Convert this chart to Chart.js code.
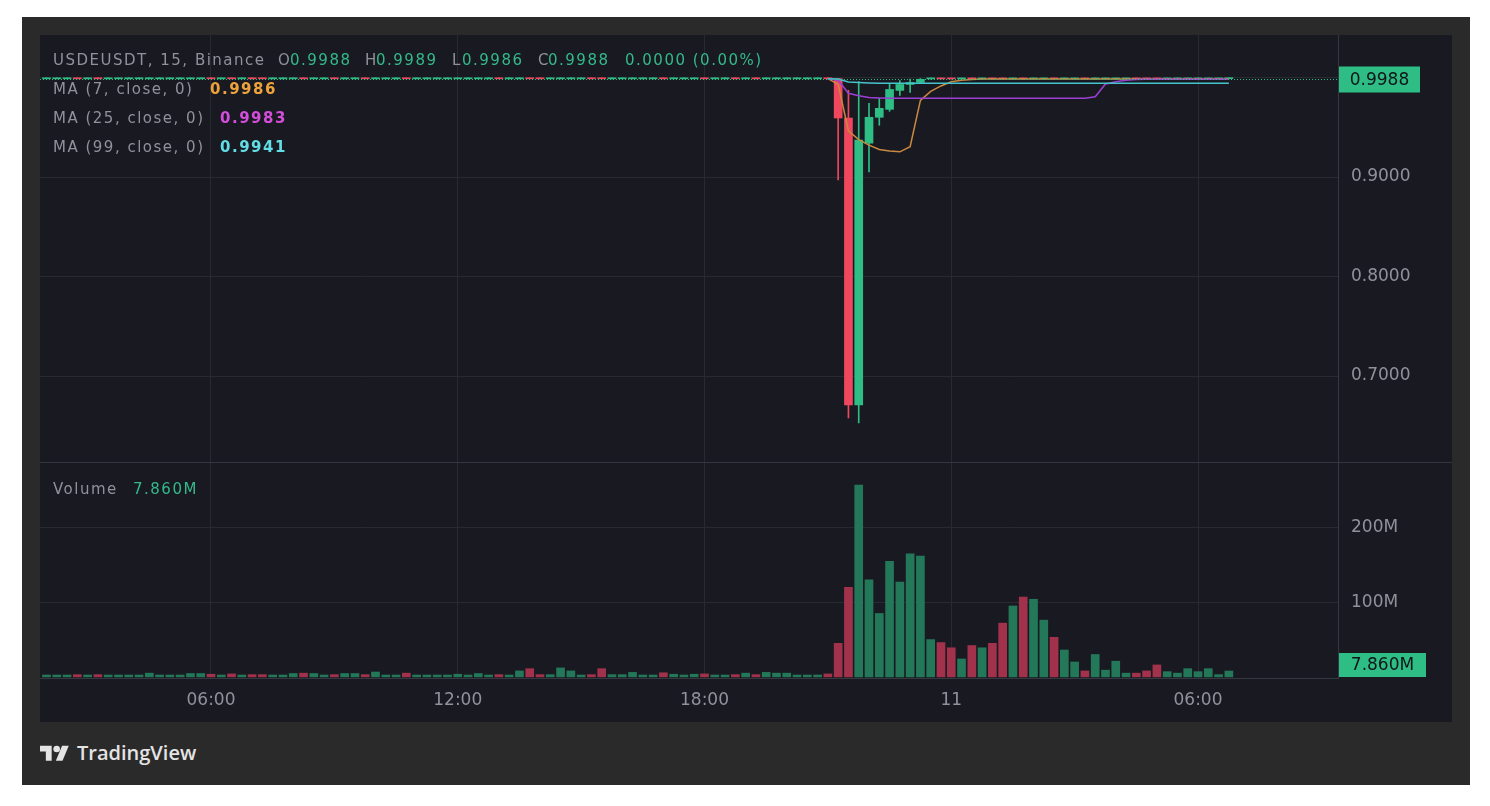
<!DOCTYPE html>
<html>
<head>
<meta charset="utf-8">
<script src="https://cdn.jsdelivr.net/npm/chart.js@4.4.1/dist/chart.umd.min.js"></script>
<style>
  body { margin: 0; background: #fff; width: 1490px; height: 806px; overflow: hidden; position: relative; font-family: "DejaVu Sans", sans-serif; }
  #frame { position: absolute; left: 22px; top: 17px; width: 1448px; height: 768px; background: #2a2a2b; }
  #pane { position: absolute; left: 40px; top: 35px; width: 1412px; height: 687px; background: #191a21; }
  #pane canvas { position: absolute; left: 0; }
  .sep { position: absolute; left: 40px; width: 1412px; height: 1px; background: #34363f; }
  .t { position: absolute; font-size: 15px; letter-spacing: 1.5px; line-height: 20px; color: #8f929b; white-space: nowrap; }
  .g { color: #33b98a; }
  .b { font-weight: bold; }
  #logo { position: absolute; left: 40px; top: 744px; }
  #brand { position: absolute; left: 77px; top: 739px; font-family: "Open Sans", sans-serif; font-weight: 600; font-size: 20px; color: #e4e4e4; line-height: 28px; }
</style>
</head>
<body>
<div id="frame"></div>
<div id="pane">
  <canvas id="priceChart" width="1412" height="427" style="top:0"></canvas>
  <canvas id="volumeChart" width="1412" height="260" style="top:427px"></canvas>
</div>
<div class="sep" style="top:462px"></div>

<div class="t" style="left:53px;top:50px">USDEUSDT, 15, Binance</div>
<div class="t" style="left:278px;top:50px">O</div><div class="t g" id="vO" style="left:290px;top:50px"></div>
<div class="t" style="left:365px;top:50px">H</div><div class="t g" id="vH" style="left:376px;top:50px"></div>
<div class="t" style="left:452px;top:50px">L</div><div class="t g" id="vL" style="left:462px;top:50px"></div>
<div class="t" style="left:538px;top:50px">C</div><div class="t g" id="vC" style="left:548px;top:50px"></div>
<div class="t g" id="vChg" style="left:625px;top:50px"></div>

<div class="t" style="left:53px;top:79px">MA (7, close, 0)</div><div class="t b" id="vMa7" style="left:210px;top:79px;color:#eea23c"></div>
<div class="t" style="left:53px;top:108px">MA (25, close, 0)</div><div class="t b" id="vMa25" style="left:220px;top:108px;color:#d44ddb"></div>
<div class="t" style="left:53px;top:137px">MA (99, close, 0)</div><div class="t b" id="vMa99" style="left:220px;top:137px;color:#62dde6"></div>

<div class="t" style="left:53px;top:479px">Volume</div><div class="t g" id="vVol" style="left:133px;top:479px"></div>

<svg id="logo" width="30" height="20" viewBox="0 0 36 24">
  <path d="M14 20H7V9H0V2h14v18z" fill="#e4e4e4"/>
  <circle cx="20" cy="6" r="4" fill="#e4e4e4"/>
  <path d="M27 20h-8l7.5-18h8z" fill="#e4e4e4"/>
</svg>
<div id="brand">TradingView</div>

<script>
// 15 minute bars, first one at 02:00 on the 10th, hours counted from 00:00 of the 10th
const START_HOUR = 2;
const BAR_HOURS = 0.25;
const X_MIN = 1.842;
const X_MAX = 33.404;

const timeTicks = [6, 12, 18, 24, 30];
const timeLabels = ['06:00', '12:00', '18:00', '11', '06:00'];
const priceTicks = [0.7, 0.8, 0.9, 1.0];
const volumeTicks = [100, 200];

const opens = [
  .9987,.9987,.9987,.9988,.9987,.9988,.9987,.9987,.9987,.9987,
  .9987,.9987,.9987,.9987,.9987,.9987,.9988,.9987,.9988,.9987,
  .9988,.9988,.9987,.9987,.9987,.9988,.9987,.9987,.9988,.9987,
  .9987,.9988,.9987,.9987,.9987,.9988,.9987,.9987,.9987,.9987,
  .9987,.9987,.9987,.9987,.9988,.9987,.9987,.9988,.9988,.9987,
  .9987,.9987,.9987,.9988,.9988,.9987,.9987,.9987,.9987,.9987,
  .9988,.9987,.9987,.9987,.9988,.9987,.9987,.9988,.9987,.9988,
  .9987,.9987,.9987,.9987,.9987,.9987,.9988,.9988,.9593,.6709,
  .9340,.9600,.9680,.9870,.9930,.9950,.9986,.9988,.9988,.9986,
  .9988,.9986,.9988,.9988,.9986,.9988,.9986,.9986,.9988,.9986,
  .9986,.9988,.9986,.9986,.9986,.9986,.9988,.9988,.9988,.9986,
  .9986,.9986,.9986,.9986,.9986,.9988
];
const highs = [
  .9989,.9989,.9989,.9989,.9989,.9989,.9989,.9989,.9989,.9989,
  .9989,.9989,.9989,.9989,.9989,.9989,.9989,.9989,.9989,.9989,
  .9989,.9989,.9989,.9989,.9989,.9989,.9989,.9989,.9989,.9989,
  .9989,.9989,.9989,.9989,.9989,.9989,.9989,.9989,.9989,.9989,
  .9989,.9989,.9989,.9989,.9989,.9989,.9989,.9989,.9989,.9989,
  .9989,.9989,.9989,.9989,.9989,.9989,.9989,.9989,.9989,.9989,
  .9989,.9989,.9989,.9989,.9989,.9989,.9989,.9989,.9989,.9989,
  .9989,.9989,.9989,.9989,.9989,.9989,.9989,.9989,.9870,.9960,
  .9740,.9790,.9940,.9970,.9985,.9989,.9989,.9989,.9989,.9989,
  .9989,.9989,.9989,.9989,.9989,.9989,.9989,.9989,.9989,.9989,
  .9989,.9989,.9989,.9989,.9989,.9989,.9989,.9989,.9989,.9989,
  .9989,.9989,.9989,.9989,.9989,.9989
];
const lows = [
  .9986,.9986,.9986,.9986,.9986,.9986,.9986,.9986,.9986,.9986,
  .9986,.9986,.9986,.9986,.9986,.9986,.9986,.9986,.9986,.9986,
  .9986,.9986,.9986,.9986,.9986,.9986,.9986,.9986,.9986,.9986,
  .9986,.9986,.9986,.9986,.9986,.9986,.9986,.9986,.9986,.9986,
  .9986,.9986,.9986,.9986,.9986,.9986,.9986,.9986,.9986,.9986,
  .9986,.9986,.9986,.9986,.9986,.9986,.9986,.9986,.9986,.9986,
  .9986,.9986,.9986,.9986,.9986,.9986,.9986,.9986,.9986,.9986,
  .9986,.9986,.9986,.9986,.9986,.9986,.9986,.8970,.6578,.6528,
  .9050,.9520,.9660,.9820,.9850,.9940,.9984,.9984,.9984,.9984,
  .9984,.9984,.9984,.9984,.9984,.9984,.9984,.9984,.9984,.9984,
  .9984,.9984,.9984,.9984,.9984,.9984,.9984,.9984,.9984,.9984,
  .9984,.9984,.9984,.9984,.9984,.9986
];
const closes = [
  .9988,.9988,.9988,.9987,.9988,.9987,.9988,.9988,.9988,.9988,
  .9988,.9988,.9988,.9988,.9988,.9988,.9987,.9988,.9987,.9988,
  .9987,.9987,.9988,.9988,.9988,.9987,.9988,.9988,.9987,.9988,
  .9988,.9987,.9988,.9988,.9988,.9987,.9988,.9988,.9988,.9988,
  .9988,.9988,.9988,.9988,.9987,.9988,.9988,.9987,.9987,.9988,
  .9988,.9988,.9988,.9987,.9987,.9988,.9988,.9988,.9988,.9988,
  .9987,.9988,.9988,.9988,.9987,.9988,.9988,.9987,.9988,.9987,
  .9988,.9988,.9988,.9988,.9988,.9988,.9987,.9593,.6709,.9370,
  .9600,.9690,.9880,.9930,.9950,.9982,.9988,.9986,.9986,.9988,
  .9986,.9988,.9986,.9986,.9988,.9986,.9988,.9988,.9986,.9988,
  .9988,.9986,.9988,.9988,.9988,.9988,.9986,.9986,.9986,.9988,
  .9988,.9988,.9988,.9988,.9988,.9988
];
// volume in millions
const volumes = [
  2.5,2.5,2.5,3,2.5,3,2.5,2.5,2.5,2.5,
  5,2.5,2.5,2.5,4.5,4.5,3.5,2.5,4,2.5,
  3,3,2.5,2.5,4.5,5,4.5,2.5,3,4.5,
  4.5,3,6.5,2.5,2.5,5,2.5,2.5,2.5,2.5,
  3.5,2.5,4.5,2.5,3,2.5,8,11,3,3,
  12,8,2.5,3,11,3,3,6,2.5,2.5,
  5.5,3.5,2.5,3.5,4,2.5,2.5,3,5,3,
  6,5,5,2.5,2.5,2.5,4,45,120,257,
  130,85,155,127,165,162,50,46,39,24,
  42,39,45,72,95,107,104,76,53,36,
  20,8,30,9,21,5,5,8,16,7,
  5,11,7,11,3,7.86
];
// moving averages, only visible from the sell-off onwards
const ma7 = [
  null,null,null,null,null,null,null,null,null,null,
  null,null,null,null,null,null,null,null,null,null,
  null,null,null,null,null,null,null,null,null,null,
  null,null,null,null,null,null,null,null,null,null,
  null,null,null,null,null,null,null,null,null,null,
  null,null,null,null,null,null,null,null,null,null,
  null,null,null,null,null,null,null,null,null,null,
  null,null,null,null,null,null,.9988,.9931,.9463,.9375,
  .9320,.9277,.9261,.9253,.9304,.9770,.9860,.9915,.9957,.9973,
  .9981,.9985,.9986,.9986,.9986,.9986,.9986,.9986,.9986,.9986,
  .9986,.9986,.9986,.9986,.9986,.9986,.9986,.9986,.9986,.9986,
  .9986,.9986,.9986,.9986,.9986,.9986
];
const ma25 = [
  null,null,null,null,null,null,null,null,null,null,
  null,null,null,null,null,null,null,null,null,null,
  null,null,null,null,null,null,null,null,null,null,
  null,null,null,null,null,null,null,null,null,null,
  null,null,null,null,null,null,null,null,null,null,
  null,null,null,null,null,null,null,null,null,null,
  null,null,null,null,null,null,null,null,null,null,
  null,null,null,null,null,null,.9988,.9972,.9841,.9816,
  .9800,.9795,.9792,.9792,.9792,.9792,.9792,.9792,.9792,.9792,
  .9792,.9792,.9792,.9792,.9792,.9792,.9792,.9792,.9792,.9792,
  .9792,.9792,.9806,.9935,.9958,.9972,.9980,.9983,.9983,.9983,
  .9983,.9983,.9983,.9983,.9983,.9983
];
const ma99 = [
  null,null,null,null,null,null,null,null,null,null,
  null,null,null,null,null,null,null,null,null,null,
  null,null,null,null,null,null,null,null,null,null,
  null,null,null,null,null,null,null,null,null,null,
  null,null,null,null,null,null,null,null,null,null,
  null,null,null,null,null,null,null,null,null,null,
  null,null,null,null,null,null,null,null,null,null,
  null,null,null,null,null,null,.9988,.9984,.9955,.9949,
  .9945,.9942,.9941,.9941,.9941,.9941,.9941,.9941,.9941,.9941,
  .9941,.9941,.9941,.9941,.9941,.9941,.9941,.9941,.9941,.9941,
  .9941,.9941,.9941,.9941,.9941,.9941,.9941,.9941,.9941,.9941,
  .9941,.9941,.9941,.9941,.9941,.9941
];

const UP = '#2dbd85';
const DOWN = '#f0475f';
const VOL_UP = '#23785a';
const VOL_DOWN = '#a2324b';
const GRID = '#282a32';
const AXIS = '#363841';
const TEXT = '#8f929b';
const FONT = { family: 'DejaVu Sans', size: 17 };

const last = closes.length - 1;
const barX = i => START_HOUR + i * BAR_HOURS;
const isUp = i => closes[i] >= opens[i];

// header values
document.getElementById('vO').textContent = opens[last].toFixed(4);
document.getElementById('vH').textContent = highs[last].toFixed(4);
document.getElementById('vL').textContent = lows[last].toFixed(4);
document.getElementById('vC').textContent = closes[last].toFixed(4);
const chg = closes[last] - opens[last];
document.getElementById('vChg').textContent = chg.toFixed(4) + ' (' + (chg / opens[last] * 100).toFixed(2) + '%)';
document.getElementById('vMa7').textContent = ma7[last].toFixed(4);
document.getElementById('vMa25').textContent = ma25[last].toFixed(4);
document.getElementById('vMa99').textContent = ma99[last].toFixed(4);
document.getElementById('vVol').textContent = volumes[last].toFixed(3) + 'M';

function axisLabel(ctx, text, x, y, w, h) {
    ctx.fillStyle = UP;
    ctx.fillRect(x, y, w, h);
    ctx.fillStyle = '#101519';
    ctx.font = '17px "DejaVu Sans"';
    ctx.textAlign = 'center';
    ctx.textBaseline = 'middle';
    ctx.fillText(text, x + w / 2, y + h / 2 + 1);
}

const lastPricePlugin = {
    id: 'lastPrice',
    afterDatasetsDraw(chart) {
        const { ctx, chartArea, scales } = chart;
        const py = Math.round(scales.y.getPixelForValue(closes[last])) + 0.5;
        ctx.save();
        ctx.strokeStyle = UP;
        ctx.lineWidth = 1;
        ctx.setLineDash([1, 2]);
        ctx.beginPath();
        ctx.moveTo(chartArea.left, py);
        ctx.lineTo(chartArea.right, py);
        ctx.stroke();
        ctx.setLineDash([]);
        const h = 26;
        const top = Math.max(chartArea.top, Math.min(py - h / 2, chartArea.bottom - h));
        axisLabel(ctx, closes[last].toFixed(4), chartArea.right + 1, top, 81, h);
        ctx.restore();
    }
};

const lastVolumePlugin = {
    id: 'lastVolume',
    afterDatasetsDraw(chart) {
        const { ctx, chartArea, scales } = chart;
        const py = scales.y.getPixelForValue(volumes[last]);
        const h = 24;
        const top = Math.max(chartArea.top, Math.min(py - h / 2, chartArea.bottom - h - 1));
        ctx.save();
        axisLabel(ctx, volumes[last].toFixed(3) + 'M', chartArea.right + 1, top, 87, h);
        ctx.restore();
    }
};

const xScale = (showLabels) => ({
    type: 'linear',
    min: X_MIN,
    max: X_MAX,
    offset: false,
    afterBuildTicks: s => { s.ticks = timeTicks.map(v => ({ value: v })); },
    ticks: {
        display: showLabels,
        color: TEXT,
        font: FONT,
        padding: 12,
        maxRotation: 0,
        callback: v => timeLabels[timeTicks.indexOf(v)]
    },
    grid: { color: GRID, drawTicks: false, offset: false },
    border: { display: showLabels, color: AXIS },
    afterFit: s => { s.height = showLabels ? 44 : 0; s.paddingLeft = 0; s.paddingRight = 0; }
});

const maLine = (values, color) => ({
    type: 'line',
    data: values.map((v, i) => ({ x: barX(i), y: v })),
    borderColor: color,
    borderWidth: 1.5,
    pointRadius: 0,
    tension: 0,
    spanGaps: false,
    order: 1
});

const priceChart = new Chart(document.getElementById('priceChart'), {
    type: 'bar',
    data: {
        datasets: [
            maLine(ma99, '#44c4cc'),
            maLine(ma25, '#9c3fd4'),
            maLine(ma7, '#c98a40'),
            {
                data: opens.map((o, i) => ({ x: barX(i), y: [o, closes[i]] })),
                backgroundColor: c => isUp(c.dataIndex) ? UP : DOWN,
                barThickness: 8,
                minBarLength: 1,
                grouped: false,
                order: 2
            },
            {
                data: lows.map((l, i) => ({ x: barX(i), y: [l, highs[i]] })),
                backgroundColor: c => isUp(c.dataIndex) ? UP : DOWN,
                barThickness: 1,
                minBarLength: 1,
                grouped: false,
                order: 3
            }
        ]
    },
    options: {
        responsive: false,
        animation: false,
        layout: { padding: 0, autoPadding: false },
        plugins: { legend: { display: false }, tooltip: { enabled: false } },
        scales: {
            x: xScale(false),
            y: {
                position: 'right',
                min: 0.6136,
                max: 1.0427,
                afterBuildTicks: s => { s.ticks = priceTicks.map(v => ({ value: v })); },
                ticks: {
                    color: TEXT,
                    font: FONT,
                    padding: 13,
                    callback: v => v === 1 ? '' : v.toFixed(4)
                },
                grid: { color: GRID, drawTicks: false },
                border: { color: AXIS },
                afterFit: s => { s.width = 114; s.paddingTop = 0; s.paddingBottom = 0; }
            }
        }
    },
    plugins: [lastPricePlugin]
});

const volumeChart = new Chart(document.getElementById('volumeChart'), {
    type: 'bar',
    data: {
        datasets: [{
            data: volumes.map((v, i) => ({ x: barX(i), y: v })),
            backgroundColor: c => isUp(c.dataIndex) ? VOL_UP : VOL_DOWN,
            barThickness: 8,
            grouped: false
        }]
    },
    options: {
        responsive: false,
        animation: false,
        layout: { padding: 0, autoPadding: false },
        plugins: { legend: { display: false }, tooltip: { enabled: false } },
        scales: {
            x: xScale(true),
            y: {
                position: 'right',
                min: -1.5,
                max: 288,
                afterBuildTicks: s => { s.ticks = volumeTicks.map(v => ({ value: v })); },
                ticks: {
                    color: TEXT,
                    font: FONT,
                    padding: 13,
                    callback: v => v + 'M'
                },
                grid: { color: GRID, drawTicks: false },
                border: { color: AXIS },
                afterFit: s => { s.width = 114; s.paddingTop = 0; s.paddingBottom = 0; }
            }
        }
    },
    plugins: [lastVolumePlugin]
});
</script>
</body>
</html>
